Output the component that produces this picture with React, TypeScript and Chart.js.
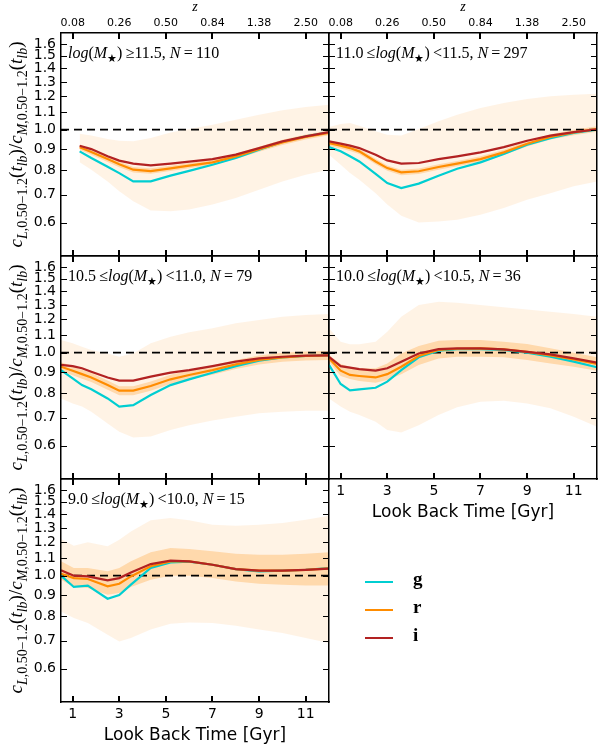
import React, { useEffect, useRef } from "react";
import { Chart, registerables } from "chart.js";

Chart.register(...registerables);

// ---------------- data ----------------
const X_TICKS = [1, 3, 5, 7, 9, 11];
const Z_LABELS = ["0.08", "0.26", "0.50", "0.84", "1.38", "2.50"];
const Y_TICKS = [0.6, 0.7, 0.8, 0.9, 1.0, 1.1, 1.2, 1.3, 1.4, 1.5, 1.6];
const REF_T = [0.5, 12];
const REF_Y = [1.0, 1.0];

const T_WIDE = [0.5, 1.0, 1.4, 1.8, 2.5, 3.0, 3.6, 4.35, 5.2, 6.0, 7.0, 8.0, 9.0, 10.0, 11.0, 12.0];
const T_P1 = [1.3, 1.8, 2.5, 3.0, 3.6, 4.35, 5.2, 6.0, 7.0, 8.0, 9.0, 10.0, 11.0, 12.0];
const T_P5 = [0.5, 1.05, 1.65, 2.5, 3.0, 3.5, 4.35, 5.2, 6.0, 7.0, 8.0, 9.0, 10.0, 11.0, 12.0];

// panel 1 : log(M) >= 11.5
const P1_G = [0.888, 0.856, 0.816, 0.788, 0.753, 0.753, 0.777, 0.798, 0.825, 0.856, 0.896, 0.935, 0.964, 0.985];
const P1_R = [0.908, 0.885, 0.851, 0.827, 0.803, 0.797, 0.809, 0.821, 0.836, 0.864, 0.899, 0.933, 0.961, 0.982];
const P1_I = [0.916, 0.899, 0.864, 0.844, 0.830, 0.822, 0.830, 0.839, 0.851, 0.872, 0.904, 0.938, 0.964, 0.987];
const P1_OUT_HI = [0.978, 0.968, 0.950, 0.941, 0.938, 0.955, 0.985, 1.004, 1.028, 1.056, 1.086, 1.112, 1.132, 1.147];
const P1_OUT_LO = [0.836, 0.803, 0.753, 0.713, 0.675, 0.642, 0.639, 0.645, 0.663, 0.687, 0.719, 0.753, 0.781, 0.803];
const P1_IN_HI = [0.921, 0.898, 0.864, 0.840, 0.815, 0.809, 0.821, 0.833, 0.848, 0.876, 0.911, 0.946, 0.974, 0.995];
const P1_IN_LO = [0.895, 0.872, 0.838, 0.814, 0.791, 0.785, 0.797, 0.809, 0.824, 0.851, 0.886, 0.920, 0.948, 0.970];

// panel 2 : 11.0 <= log(M) < 11.5
const P2_G = [0.909, 0.888, 0.864, 0.840, 0.785, 0.746, 0.726, 0.744, 0.777, 0.807, 0.836, 0.875, 0.921, 0.955, 0.982, 1.000];
const P2_R = [0.929, 0.916, 0.904, 0.888, 0.840, 0.810, 0.791, 0.796, 0.815, 0.830, 0.851, 0.883, 0.926, 0.961, 0.985, 1.004];
const P2_I = [0.938, 0.926, 0.916, 0.904, 0.872, 0.845, 0.830, 0.833, 0.851, 0.864, 0.883, 0.909, 0.941, 0.968, 0.987, 1.002];
const P2_OUT_HI = [1.015, 1.032, 1.037, 1.022, 0.991, 0.973, 0.968, 1.004, 1.047, 1.086, 1.126, 1.158, 1.183, 1.201, 1.212, 1.218];
const P2_OUT_LO = [0.872, 0.825, 0.788, 0.760, 0.706, 0.663, 0.624, 0.601, 0.604, 0.610, 0.627, 0.651, 0.681, 0.706, 0.733, 0.753];
const P2_IN_HI = [0.943, 0.930, 0.918, 0.901, 0.853, 0.822, 0.803, 0.808, 0.827, 0.842, 0.864, 0.896, 0.940, 0.975, 1.000, 1.019];
const P2_IN_LO = [0.915, 0.902, 0.890, 0.875, 0.827, 0.798, 0.779, 0.784, 0.803, 0.818, 0.838, 0.870, 0.912, 0.947, 0.970, 0.989];

// panel 3 : 10.5 <= log(M) < 11.0
const P3_G = [0.909, 0.869, 0.837, 0.818, 0.778, 0.744, 0.750, 0.793, 0.837, 0.864, 0.896, 0.929, 0.957, 0.975, 0.982, 0.987];
const P3_R = [0.926, 0.906, 0.889, 0.873, 0.837, 0.812, 0.812, 0.833, 0.864, 0.885, 0.909, 0.938, 0.961, 0.975, 0.982, 0.985];
const P3_I = [0.935, 0.929, 0.918, 0.901, 0.873, 0.858, 0.858, 0.877, 0.896, 0.909, 0.929, 0.952, 0.969, 0.978, 0.984, 0.985];
const P3_OUT_HI = [1.072, 1.053, 1.033, 1.015, 0.996, 0.978, 0.996, 1.053, 1.092, 1.118, 1.143, 1.175, 1.196, 1.218, 1.230, 1.236];
const P3_OUT_LO = [0.778, 0.757, 0.744, 0.723, 0.678, 0.648, 0.628, 0.631, 0.654, 0.672, 0.689, 0.704, 0.717, 0.723, 0.727, 0.727];
const P3_IN_HI = [0.949, 0.929, 0.911, 0.895, 0.858, 0.832, 0.832, 0.854, 0.886, 0.907, 0.932, 0.961, 0.985, 0.999, 1.006, 1.009];
const P3_IN_LO = [0.903, 0.884, 0.867, 0.852, 0.816, 0.792, 0.792, 0.812, 0.842, 0.863, 0.886, 0.915, 0.937, 0.951, 0.958, 0.961];

// panel 4 : 10.0 <= log(M) < 10.5
const P4_G = [0.935, 0.842, 0.813, 0.818, 0.825, 0.853, 0.909, 0.975, 1.011, 1.020, 1.020, 1.015, 1.000, 0.978, 0.952, 0.923];
const P4_R = [0.969, 0.906, 0.885, 0.880, 0.873, 0.889, 0.926, 0.982, 1.015, 1.022, 1.024, 1.018, 1.004, 0.985, 0.964, 0.940];
const P4_I = [0.978, 0.929, 0.921, 0.914, 0.906, 0.918, 0.952, 0.996, 1.020, 1.024, 1.024, 1.018, 1.005, 0.991, 0.969, 0.947];
const P4_OUT_HI = [1.143, 1.062, 1.047, 1.047, 1.062, 1.122, 1.218, 1.299, 1.323, 1.316, 1.299, 1.283, 1.268, 1.252, 1.236, 1.218];
const P4_OUT_LO = [0.778, 0.744, 0.723, 0.710, 0.685, 0.654, 0.645, 0.672, 0.710, 0.741, 0.764, 0.768, 0.757, 0.737, 0.704, 0.666];
const P4_IN_HI = [0.987, 0.940, 0.926, 0.918, 0.918, 0.943, 0.996, 1.037, 1.068, 1.072, 1.072, 1.062, 1.049, 1.024, 1.000, 0.975];
const P4_IN_LO = [0.952, 0.880, 0.865, 0.856, 0.848, 0.861, 0.889, 0.935, 0.969, 0.978, 0.978, 0.975, 0.961, 0.943, 0.926, 0.906];

// panel 5 : 9.0 <= log(M) < 10.0
const P5_G = [1.000, 0.940, 0.947, 0.881, 0.899, 0.952, 1.043, 1.076, 1.080, 1.062, 1.037, 1.024, 1.028, 1.033, 1.043];
const P5_R = [1.011, 0.987, 0.982, 0.943, 0.957, 0.996, 1.053, 1.082, 1.082, 1.062, 1.037, 1.028, 1.028, 1.033, 1.041];
const P5_I = [1.030, 1.000, 0.996, 0.975, 0.987, 1.018, 1.066, 1.086, 1.082, 1.062, 1.037, 1.028, 1.028, 1.033, 1.039];
const P5_OUT_HI = [1.223, 1.179, 1.201, 1.175, 1.218, 1.275, 1.355, 1.372, 1.355, 1.323, 1.316, 1.323, 1.335, 1.360, 1.390];
const P5_OUT_LO = [0.822, 0.793, 0.771, 0.723, 0.697, 0.710, 0.744, 0.768, 0.774, 0.771, 0.760, 0.744, 0.730, 0.710, 0.691];
const P5_IN_HI = [1.082, 1.043, 1.043, 1.024, 1.043, 1.082, 1.137, 1.164, 1.158, 1.143, 1.128, 1.122, 1.122, 1.128, 1.137];
const P5_IN_LO = [0.978, 0.940, 0.935, 0.901, 0.909, 0.940, 0.978, 1.000, 1.000, 0.987, 0.969, 0.957, 0.952, 0.947, 0.947];

const BIN_LO = ["", "11.0", "10.5", "10.0", "9.0"];
const BIN_HI = ["11.5", "11.5", "11.0", "10.5", "10.0"];
const N_GAL = ["110", "297", "79", "36", "15"];
const BANDS = ["g", "r", "i"];

// ---------------- styles / layout ----------------
const W = 598;
const H = 749;
const COL_X = [[61, 329], [329, 597]];
const ROW_Y = [[33, 256], [256, 479], [479, 702]];
const X_MIN = 0.5, X_MAX = 12, Y_MIN = 0.5, Y_MAX = 1.7;
const COLORS = ["#00CED1", "#FF8C00", "#B22222"];
const OUTER_FILL = "rgba(255,140,0,0.10)";
const INNER_FILL = "rgba(255,140,0,0.25)";
const SANS = "'DejaVu Sans', sans-serif";
const SERIF = "'Liberation Serif', 'DejaVu Serif', serif";

type Seg = { t: string; f?: "i" | "r"; sub?: boolean };

function fontOf(s: Seg, size: number, sub: number) {
  return `${s.f === "i" ? "italic " : ""}${s.sub ? sub : size}px ${SERIF}`;
}
function measureRich(ctx: CanvasRenderingContext2D, segs: Seg[], size: number, sub: number) {
  let w = 0;
  for (const s of segs) {
    ctx.font = fontOf(s, size, sub);
    w += ctx.measureText(s.t).width;
  }
  return w;
}
function drawRich(ctx: CanvasRenderingContext2D, segs: Seg[], x: number, y: number, size: number, sub: number, dy: number) {
  let cx = x;
  for (const s of segs) {
    ctx.font = fontOf(s, size, sub);
    ctx.fillText(s.t, cx, y + (s.sub ? dy : 0));
    cx += ctx.measureText(s.t).width;
  }
}

const Y_TITLE: Seg[] = [
  { t: "c", f: "i" }, { t: "L", f: "i", sub: true }, { t: ",0.50\u22121.2", sub: true },
  { t: "(" }, { t: "t", f: "i" }, { t: "lb", f: "i", sub: true }, { t: ")" },
  { t: "/" },
  { t: "c", f: "i" }, { t: "M", f: "i", sub: true }, { t: ",0.50\u22121.2", sub: true },
  { t: "(" }, { t: "t", f: "i" }, { t: "lb", f: "i", sub: true }, { t: ")" },
];

function binLabel(k: number): Seg[] {
  const segs: Seg[] = [];
  if (BIN_LO[k]) segs.push({ t: BIN_LO[k] + "\u2009\u2264" });
  segs.push({ t: "log", f: "i" }, { t: "(" }, { t: "M", f: "i" }, { t: "\u2605", sub: true }, { t: ")" });
  if (BIN_LO[k]) segs.push({ t: "\u2009<" + BIN_HI[k] + ", " });
  else segs.push({ t: "\u2009\u2265" + BIN_HI[k] + ", " });
  segs.push({ t: "N", f: "i" }, { t: "\u2009=\u2009" }, { t: N_GAL[k] });
  return segs;
}

type PanelCfg = {
  k: number; row: number; col: number; t: number[];
  lines: number[][]; outHi: number[]; outLo: number[]; inHi: number[]; inLo: number[];
  leftLabels: boolean; bottomLabels: boolean; topLabels: boolean;
};

const PANELS: PanelCfg[] = [
  { k: 0, row: 0, col: 0, t: T_P1, lines: [P1_G, P1_R, P1_I], outHi: P1_OUT_HI, outLo: P1_OUT_LO, inHi: P1_IN_HI, inLo: P1_IN_LO, leftLabels: true, bottomLabels: false, topLabels: true },
  { k: 1, row: 0, col: 1, t: T_WIDE, lines: [P2_G, P2_R, P2_I], outHi: P2_OUT_HI, outLo: P2_OUT_LO, inHi: P2_IN_HI, inLo: P2_IN_LO, leftLabels: false, bottomLabels: false, topLabels: true },
  { k: 2, row: 1, col: 0, t: T_WIDE, lines: [P3_G, P3_R, P3_I], outHi: P3_OUT_HI, outLo: P3_OUT_LO, inHi: P3_IN_HI, inLo: P3_IN_LO, leftLabels: true, bottomLabels: false, topLabels: false },
  { k: 3, row: 1, col: 1, t: T_WIDE, lines: [P4_G, P4_R, P4_I], outHi: P4_OUT_HI, outLo: P4_OUT_LO, inHi: P4_IN_HI, inLo: P4_IN_LO, leftLabels: false, bottomLabels: true, topLabels: false },
  { k: 4, row: 2, col: 0, t: T_P5, lines: [P5_G, P5_R, P5_I], outHi: P5_OUT_HI, outLo: P5_OUT_LO, inHi: P5_IN_HI, inLo: P5_IN_LO, leftLabels: true, bottomLabels: true, topLabels: false },
];

const pts = (t: number[], v: number[]) => t.map((x, i) => ({ x, y: v[i] }));

function Panel({ cfg }: { cfg: PanelCfg }) {
  const ref = useRef<HTMLCanvasElement>(null);
  useEffect(() => {
    const [L, R] = COL_X[cfg.col];
    const [T, B] = ROW_Y[cfg.row];
    const lineDs = (idx: number) => ({
      data: pts(cfg.t, cfg.lines[idx]), borderColor: COLORS[idx], borderWidth: 2.2,
      pointRadius: 0, fill: false, tension: 0,
    });
    const bandDs = (v: number[], fill: any, color: string) => ({
      data: pts(cfg.t, v), borderColor: "rgba(0,0,0,0)", borderWidth: 0,
      backgroundColor: color, pointRadius: 0, fill, tension: 0,
    });
    const decor = {
      id: "decor" + cfg.k,
      afterDraw(chart: any) {
        const ctx: CanvasRenderingContext2D = chart.ctx;
        const { left, right, top, bottom } = chart.chartArea;
        const sx = chart.scales.x, sy = chart.scales.y;
        ctx.save();
        ctx.strokeStyle = "#000";
        ctx.lineWidth = 2;
        for (const v of X_TICKS) {
          const px = Math.round(sx.getPixelForValue(v));
          ctx.beginPath();
          ctx.moveTo(px, bottom); ctx.lineTo(px, bottom - 6);
          ctx.moveTo(px, top); ctx.lineTo(px, top + 6);
          ctx.stroke();
        }
        ctx.lineWidth = 1;
        for (const v of Y_TICKS) {
          const py = Math.round(sy.getPixelForValue(v)) + 0.5;
          ctx.beginPath();
          ctx.moveTo(left, py); ctx.lineTo(left + 6, py);
          ctx.moveTo(right, py); ctx.lineTo(right - 6, py);
          ctx.stroke();
        }
        ctx.fillStyle = "#000";
        ctx.textAlign = "left";
        ctx.textBaseline = "alphabetic";
        drawRich(ctx, binLabel(cfg.k), left + 7, top + 25, 16, 11, 4);
        if (cfg.leftLabels) {
          const w = measureRich(ctx, Y_TITLE, 19, 14);
          ctx.save();
          ctx.translate(22, (top + bottom) / 2);
          ctx.rotate(-Math.PI / 2);
          drawRich(ctx, Y_TITLE, -w / 2, 0, 19, 14, 5);
          ctx.restore();
        }
        const cx = (left + right) / 2;
        if (cfg.bottomLabels) {
          ctx.font = `17px ${SANS}`;
          ctx.textAlign = "center";
          ctx.textBaseline = "middle";
          ctx.fillText("Look Back Time [Gyr]", cx, bottom + 34);
        }
        if (cfg.topLabels) {
          ctx.font = `italic 14px ${SERIF}`;
          ctx.textAlign = "center";
          ctx.textBaseline = "middle";
          ctx.fillText("z", cx, 7);
        }
        ctx.restore();
      },
    };
    const chart = new Chart(ref.current as HTMLCanvasElement, {
      type: "line",
      data: {
        datasets: [
          lineDs(2),
          lineDs(1),
          lineDs(0),
          { data: pts(REF_T, REF_Y), borderColor: "#000", borderWidth: 1.7, borderDash: [8, 5], pointRadius: 0, fill: false },
          bandDs(cfg.inHi, "+1", INNER_FILL),
          bandDs(cfg.inLo, false, "rgba(0,0,0,0)"),
          bandDs(cfg.outHi, "+1", OUTER_FILL),
          bandDs(cfg.outLo, false, "rgba(0,0,0,0)"),
        ] as any,
      },
      options: {
        animation: false,
        responsive: false,
        maintainAspectRatio: false,
        events: [],
        layout: { padding: { left: 0, right: W - R, top: 0, bottom: 0 } },
        plugins: { legend: { display: false }, tooltip: { enabled: false } },
        scales: {
          x: {
            type: "linear", position: "bottom", min: X_MIN, max: X_MAX,
            afterBuildTicks: (s: any) => { s.ticks = X_TICKS.map((v) => ({ value: v })); },
            afterFit: (s: any) => { s.height = H - B; },
            grid: { display: false, drawTicks: false },
            border: { display: true, color: "#000", width: 1.5, z: 2 },
            ticks: { display: cfg.bottomLabels, padding: 4, color: "#000", font: { size: 14, family: SANS }, autoSkip: false, maxRotation: 0, callback: (v: any) => String(v) },
          },
          xTop: {
            type: "linear", position: "top", min: X_MIN, max: X_MAX,
            afterBuildTicks: (s: any) => { s.ticks = X_TICKS.map((v) => ({ value: v })); },
            afterFit: (s: any) => { s.height = T; },
            grid: { display: false, drawTicks: false },
            border: { display: true, color: "#000", width: 1.5, z: 2 },
            ticks: { display: cfg.topLabels, padding: 3, color: "#000", font: { size: 11, family: SANS }, autoSkip: false, maxRotation: 0, callback: (v: any) => Z_LABELS[X_TICKS.indexOf(Number(v))] },
          },
          y: {
            type: "logarithmic", position: "left", min: Y_MIN, max: Y_MAX,
            afterBuildTicks: (s: any) => { s.ticks = Y_TICKS.map((v) => ({ value: v })); },
            afterFit: (s: any) => { s.width = L; },
            grid: { display: false, drawTicks: false },
            border: { display: true, color: "#000", width: 1.5, z: 2 },
            ticks: { display: cfg.leftLabels, padding: 5, color: "#000", font: { size: 14, family: SANS }, autoSkip: false, callback: (v: any) => Number(v).toFixed(1) },
          },
          yRight: {
            type: "logarithmic", position: "right", min: Y_MIN, max: Y_MAX,
            afterFit: (s: any) => { s.width = 0; },
            grid: { display: false, drawTicks: false },
            border: { display: true, color: "#000", width: 1.5, z: 2 },
            ticks: { display: false },
          },
        },
      } as any,
      plugins: [decor],
    });
    return () => chart.destroy();
  }, [cfg]);
  return (
    <canvas ref={ref} width={W} height={H}
      style={{ position: "absolute", left: 0, top: 0, width: W, height: H, pointerEvents: "none" }} />
  );
}

export default function App() {
  return (
    <div style={{ position: "absolute", left: 0, top: 0, width: W, height: H, background: "#fff", overflow: "hidden" }}>
      {PANELS.map((p) => <Panel key={p.k} cfg={p} />)}
      {BANDS.map((b, k) => (
        <React.Fragment key={b}>
          <div style={{ position: "absolute", left: 365, top: 581 + k * 28, width: 28, height: 2, background: COLORS[k] }} />
          <div style={{ position: "absolute", left: 413, top: 568 + k * 28, height: 24, lineHeight: "24px", font: `bold 19px ${SERIF}`, color: "#000" }}>{b}</div>
        </React.Fragment>
      ))}
    </div>
  );
}
